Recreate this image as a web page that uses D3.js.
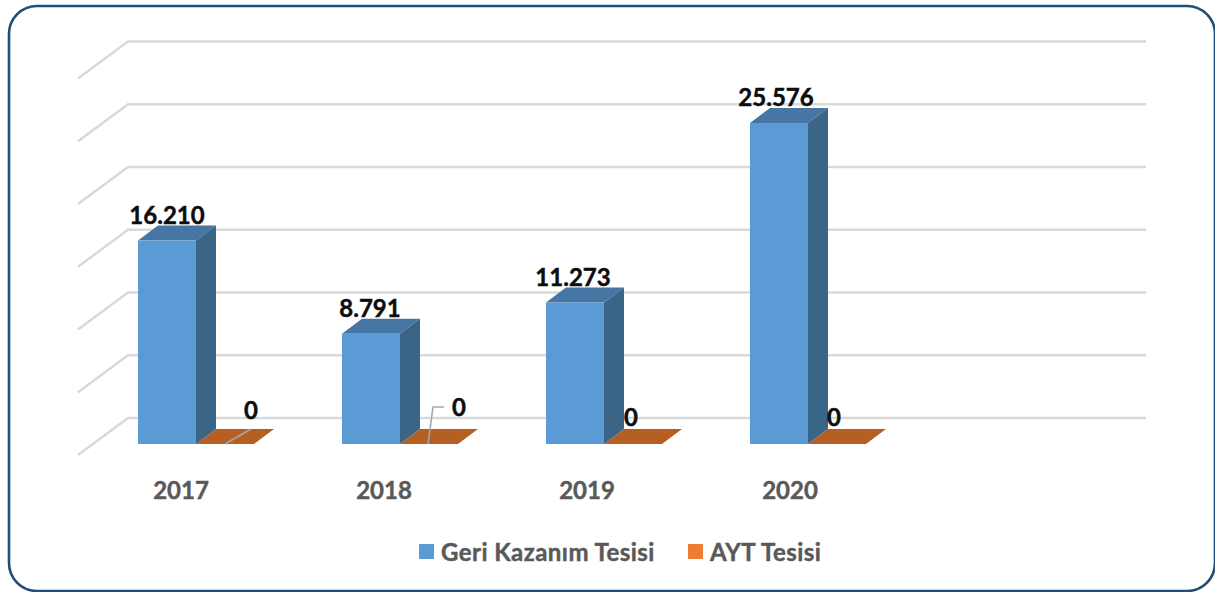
<!DOCTYPE html>
<html>
  <head>
    <meta charset="utf-8">
    <style>
      html, body { margin: 0; padding: 0; background: #fff; }
      svg { display: block; }
      text { font-family: Lato, "Open Sans", sans-serif; font-weight: 700; stroke-width: 0.45; paint-order: stroke; }
    </style>
  </head>
  <body>
    <svg id="workspace"></svg>
  </body>
</html>

<script src="https://d3js.org/d3.v7.min.js"></script>

<script>
  const WIDTH = 1215;
  const HEIGHT = 592;

  // chart data
  const years = ['2017', '2018', '2019', '2020'];
  const seriesNames = ['Geri Kazanım Tesisi', 'AYT Tesisi'];
  const geriKazanim = [16210, 8791, 11273, 25576];
  const ayt = [0, 0, 0, 0];
  const gridTicks = [0, 5000, 10000, 15000, 20000, 25000, 30000];

  // layout
  const BACK_FLOOR = 418;
  const BAR_FLOOR = 444;
  const BAR_W = 58;
  const BAR_DX = 20, BAR_DY = 15;   // depth of a bar
  const WALL_DX = 50, WALL_DY = 37; // depth of the floor
  const WALL_X = 128, WALL_END = 1146;

  const FRONT = ['#5b9bd5', '#ed7d31'];
  const TOP = ['#4676a3', '#b65f22'];
  const SIDE = ['#3a6587', '#a85820'];

  // hand placed zero labels: label offset from the orange bar's left edge, and leader points
  const zeroLabels = [
    { dx: 55, y: 419, leader: [[29, 444], [55, 429]] },
    { dx: 59, y: 416, leader: [[28, 444], [33, 407], [44, 407]] },
    { dx: 27, y: 426, leader: null },
    { dx: 26, y: 426, leader: null }
  ];

  const svg = d3.select('#workspace').attr('width', WIDTH).attr('height', HEIGHT);

  const x = d3.scaleBand().domain(years).range([138, 954]);
  const xLabel = d3.scalePoint().domain(years).range([181, 790]);
  const h = d3.scaleLinear().domain([0, 30000]).range([0, BACK_FLOOR - 41.5]);
  const fmt = d3.formatLocale({ decimal: ',', thousands: '.', grouping: [3], currency: ['', ''] }).format(',d');

  function pts(arr) {
    return arr.map(p => p.join(',')).join(' ');
  }

  // frame
  svg.append('rect')
    .attr('x', 9).attr('y', 6)
    .attr('width', 1206).attr('height', 585)
    .attr('rx', 28).attr('ry', 28)
    .attr('fill', '#fff')
    .attr('stroke', '#1f4e79')
    .attr('stroke-width', 2.6);

  // gridlines on the back wall and the side wall
  const grid = svg.append('g');
  gridTicks.forEach(function(t) {
    const y = BACK_FLOOR - h(t);
    grid.append('polyline')
      .attr('points', pts([[WALL_X - WALL_DX, y + WALL_DY], [WALL_X, y], [WALL_END, y]]))
      .attr('fill', 'none')
      .attr('stroke', '#d9d9d9')
      .attr('stroke-width', 2.4);
  });

  // draws one 3d bar
  function bar(left, value, s) {
    const top = BAR_FLOOR - h(value);
    const right = left + BAR_W;
    const g = svg.append('g');
    g.append('polygon')
      .attr('points', pts([[left, top], [left + BAR_DX, top - BAR_DY], [right + BAR_DX, top - BAR_DY], [right, top]]))
      .attr('fill', TOP[s]);
    g.append('polygon')
      .attr('points', pts([[right, top], [right + BAR_DX, top - BAR_DY], [right + BAR_DX, BAR_FLOOR - BAR_DY], [right, BAR_FLOOR]]))
      .attr('fill', SIDE[s]);
    if (value > 0) {
      g.append('rect')
        .attr('x', left).attr('y', top)
        .attr('width', BAR_W).attr('height', h(value))
        .attr('fill', FRONT[s]);
    }
  }

  years.forEach(function(year, i) {
    const left = x(year);
    bar(left + BAR_W, ayt[i], 1);
    bar(left, geriKazanim[i], 0);
  });

  // value labels
  years.forEach(function(year, i) {
    const left = x(year);
    svg.append('text')
      .attr('x', xLabel(year) - 14)
      .attr('y', BAR_FLOOR - h(geriKazanim[i]) - 17)
      .attr('text-anchor', 'middle')
      .attr('font-size', 24)
      .attr('fill', '#0d0d0d')
      .attr('stroke', '#0d0d0d')
      .text(fmt(geriKazanim[i]));

    const z = zeroLabels[i];
    const oLeft = left + BAR_W;
    if (z.leader) {
      svg.append('polyline')
        .attr('points', pts(z.leader.map(p => [oLeft + p[0], p[1]])))
        .attr('fill', 'none')
        .attr('stroke', '#a6a6a6')
        .attr('stroke-width', 1.6);
    }
    svg.append('text')
      .attr('x', oLeft + z.dx)
      .attr('y', z.y)
      .attr('text-anchor', 'middle')
      .attr('font-size', 24)
      .attr('fill', '#0d0d0d')
      .attr('stroke', '#0d0d0d')
      .text(fmt(ayt[i]));

    // year labels
    svg.append('text')
      .attr('x', xLabel(year))
      .attr('y', 499)
      .attr('text-anchor', 'middle')
      .attr('font-size', 24)
      .attr('fill', '#595959')
      .attr('stroke', '#595959')
      .text(year);
  });

  // legend
  const legendX = [419, 688];
  seriesNames.forEach(function(name, s) {
    svg.append('rect')
      .attr('x', legendX[s]).attr('y', 544)
      .attr('width', 15).attr('height', 15)
      .attr('fill', FRONT[s]);
    svg.append('text')
      .attr('x', legendX[s] + 22)
      .attr('y', 561)
      .attr('font-size', 24)
      .attr('letter-spacing', 0.45)
      .attr('fill', '#595959')
      .attr('stroke', '#595959')
      .text(name);
  });
</script>
